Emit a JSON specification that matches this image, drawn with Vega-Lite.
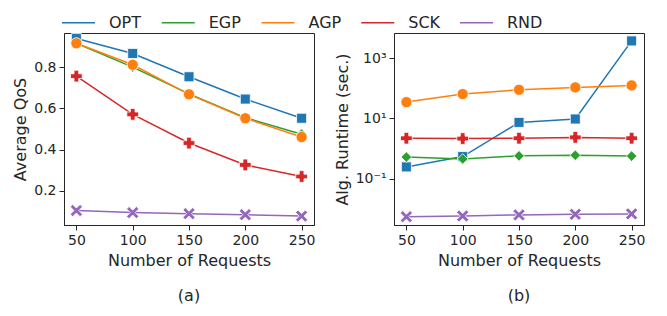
{
  "$schema": "https://vega.github.io/schema/vega-lite/v6.json",
  "background": "white",
  "padding": {"left": 12, "top": 5, "right": 10, "bottom": 5},
  "data": {"values": [
    {"n": 50, "alg": "OPT", "qos": 0.938, "rt": 0.245},
    {"n": 100, "alg": "OPT", "qos": 0.866, "rt": 0.54},
    {"n": 150, "alg": "OPT", "qos": 0.753, "rt": 7.4},
    {"n": 200, "alg": "OPT", "qos": 0.645, "rt": 9.6},
    {"n": 250, "alg": "OPT", "qos": 0.552, "rt": 3800},
    {"n": 50, "alg": "EGP", "qos": 0.915, "rt": 0.52},
    {"n": 100, "alg": "EGP", "qos": 0.80, "rt": 0.45},
    {"n": 150, "alg": "EGP", "qos": 0.67, "rt": 0.57},
    {"n": 200, "alg": "EGP", "qos": 0.555, "rt": 0.6},
    {"n": 250, "alg": "EGP", "qos": 0.475, "rt": 0.56},
    {"n": 50, "alg": "AGP", "qos": 0.915, "rt": 35},
    {"n": 100, "alg": "AGP", "qos": 0.811, "rt": 65},
    {"n": 150, "alg": "AGP", "qos": 0.668, "rt": 90},
    {"n": 200, "alg": "AGP", "qos": 0.552, "rt": 108},
    {"n": 250, "alg": "AGP", "qos": 0.461, "rt": 126},
    {"n": 50, "alg": "SCK", "qos": 0.756, "rt": 2.2},
    {"n": 100, "alg": "SCK", "qos": 0.571, "rt": 2.15},
    {"n": 150, "alg": "SCK", "qos": 0.432, "rt": 2.2},
    {"n": 200, "alg": "SCK", "qos": 0.326, "rt": 2.35},
    {"n": 250, "alg": "SCK", "qos": 0.27, "rt": 2.2},
    {"n": 50, "alg": "RND", "qos": 0.105, "rt": 0.0054},
    {"n": 100, "alg": "RND", "qos": 0.095, "rt": 0.0057},
    {"n": 150, "alg": "RND", "qos": 0.09, "rt": 0.0062},
    {"n": 200, "alg": "RND", "qos": 0.085, "rt": 0.0065},
    {"n": 250, "alg": "RND", "qos": 0.078, "rt": 0.0067}
  ]},
  "spacing": 80,
  "bounds": "flush",
  "hconcat": [
    {
      "width": 250, "height": 192,
      "title": {"text": "(a)", "orient": "bottom", "offset": 20},
      "layer": [
        {
          "mark": {"type": "line", "strokeWidth": 1.5},
          "encoding": {
            "x": {"field": "n", "type": "quantitative", "scale": {"domain": [39, 261], "nice": false, "zero": false}, "axis": {"values": [50, 100, 150, 200, 250], "title": "Number of Requests"}},
            "y": {"field": "qos", "type": "quantitative", "scale": {"domain": [0.035, 0.965], "nice": false, "zero": false}, "axis": {"values": [0.2, 0.4, 0.6, 0.8], "format": ".1f", "title": "Average QoS"}},
            "stroke": {"field": "alg", "type": "nominal", "sort": ["OPT", "EGP", "AGP", "SCK", "RND"], "scale": {"range": ["#1f77b4", "#2ca02c", "#ff7f0e", "#d62728", "#9467bd"]},
              "legend": {"title": null, "orient": "none", "legendX": -3, "legendY": -28, "direction": "horizontal", "columns": 5, "symbolType": "stroke", "symbolSize": 1089, "symbolStrokeWidth": 1.5, "labelOffset": 13, "columnPadding": 16.75}}
          }
        },
        {
          "mark": {"type": "point", "filled": true, "stroke": "white", "strokeWidth": 0.8, "opacity": 1},
          "encoding": {
            "x": {"field": "n", "type": "quantitative"},
            "y": {"field": "qos", "type": "quantitative"},
            "fill": {"field": "alg", "type": "nominal", "scale": {"domain": ["OPT", "EGP", "AGP", "SCK", "RND"], "range": ["#1f77b4", "#2ca02c", "#ff7f0e", "#d62728", "#9467bd"]},
              "legend": {"title": null, "orient": "none", "legendX": -3, "legendY": -28, "direction": "horizontal", "columns": 5, "symbolSize": 100, "symbolStrokeWidth": 1.5, "symbolStrokeColor": "white", "symbolOffset": 11.5, "labelOffset": 36, "columnPadding": 16.75, "labelOpacity": 0}},
            "shape": {"field": "alg", "type": "nominal", "scale": {"domain": ["OPT", "EGP", "AGP", "SCK", "RND"], "range": ["square", "diamond", "circle", "cross", "M0,-0.4L0.6,-1L1,-0.6L0.4,0L1,0.6L0.6,1L0,0.4L-0.6,1L-1,0.6L-0.4,0L-1,-0.6L-0.6,-1Z"]}, "legend": null},
            "size": {"field": "alg", "type": "nominal", "scale": {"domain": ["OPT", "EGP", "AGP", "SCK", "RND"], "range": [100, 150, 90, 110, 90]}, "legend": null}
          }
        }
      ]
    },
    {
      "width": 250, "height": 192,
      "title": {"text": "(b)", "orient": "bottom", "offset": 20},
      "layer": [
        {
          "mark": {"type": "line", "strokeWidth": 1.5},
          "encoding": {
            "x": {"field": "n", "type": "quantitative", "scale": {"domain": [39, 261], "nice": false, "zero": false}, "axis": {"values": [50, 100, 150, 200, 250], "title": "Number of Requests"}},
            "y": {"field": "rt", "type": "quantitative", "scale": {"type": "log", "domain": [0.00286, 6966], "nice": false}, "axis": {"values": [0.1, 10, 1000], "labelExpr": "datum.value >= 100 ? '10³' : datum.value >= 1 ? '10¹' : '10⁻¹'", "title": "Alg. Runtime (sec.)"}},
            "stroke": {"field": "alg", "type": "nominal", "sort": ["OPT", "EGP", "AGP", "SCK", "RND"],
              "legend": {"title": null, "orient": "none", "legendX": -3, "legendY": -28, "direction": "horizontal", "columns": 5, "symbolType": "stroke", "symbolSize": 1089, "symbolStrokeWidth": 1.5, "labelOffset": 13, "columnPadding": 16.75}}
          }
        },
        {
          "mark": {"type": "point", "filled": true, "stroke": "white", "strokeWidth": 0.8, "opacity": 1},
          "encoding": {
            "x": {"field": "n", "type": "quantitative"},
            "y": {"field": "rt", "type": "quantitative"},
            "fill": {"field": "alg", "type": "nominal",
              "legend": {"title": null, "orient": "none", "legendX": -3, "legendY": -28, "direction": "horizontal", "columns": 5, "symbolSize": 100, "symbolStrokeWidth": 1.5, "symbolStrokeColor": "white", "symbolOffset": 11.5, "labelOffset": 36, "columnPadding": 16.75, "labelOpacity": 0}},
            "shape": {"field": "alg", "type": "nominal", "legend": null},
            "size": {"field": "alg", "type": "nominal", "legend": null}
          }
        }
      ]
    }
  ],
  "resolve": {"scale": {"stroke": "shared", "fill": "shared", "shape": "shared", "size": "shared", "y": "independent"}},
  "config": {
    "font": "DejaVu Sans",
    "view": {"stroke": "#262626", "strokeWidth": 1},
    "title": {"fontSize": 16, "fontWeight": "normal", "color": "#262626", "font": "DejaVu Sans"},
    "axis": {"grid": false, "domainColor": "#262626", "tickColor": "#262626", "tickSize": 5, "labelFontSize": 14, "titleFontSize": 16, "titleFontWeight": "normal", "labelColor": "#262626", "titleColor": "#262626", "labelPadding": 3, "titlePadding": 5},
    "legend": {"labelFontSize": 16, "labelColor": "#262626"}
  }
}
